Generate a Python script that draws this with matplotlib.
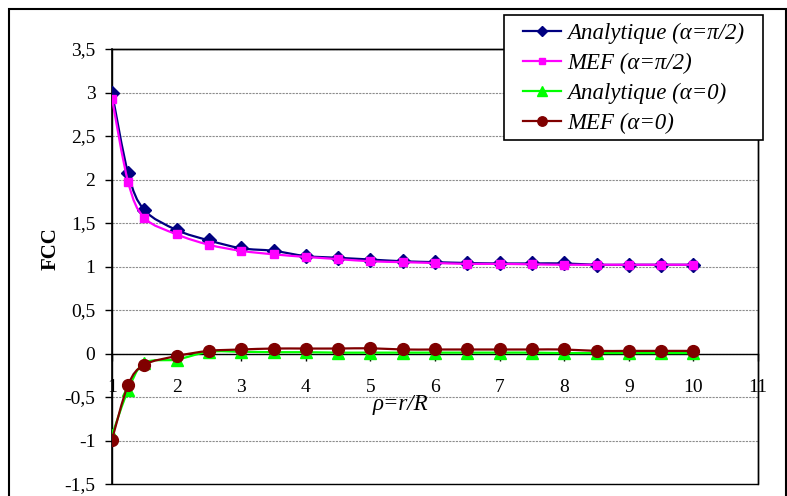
import matplotlib
matplotlib.use("Agg")
import matplotlib.pyplot as plt
from matplotlib.path import Path
from matplotlib.patches import PathPatch, Rectangle
from matplotlib.lines import Line2D

# ---------------------------------------------------------------------------
# Data
# ---------------------------------------------------------------------------
rho = [1, 1.25, 1.5, 2, 2.5, 3, 3.5, 4, 4.5, 5, 5.5, 6, 6.5, 7, 7.5, 8, 8.5,
       9, 9.5, 10]

ana_pi2 = [3.00, 2.07, 1.65, 1.42, 1.30, 1.21, 1.18, 1.12, 1.10, 1.08, 1.06,
           1.05, 1.04, 1.035, 1.035, 1.035, 1.02, 1.02, 1.02, 1.02]
mef_pi2 = [2.93, 1.97, 1.56, 1.37, 1.25, 1.18, 1.14, 1.11, 1.085, 1.06, 1.05,
           1.04, 1.03, 1.03, 1.025, 1.02, 1.02, 1.02, 1.02, 1.02]
ana_0 = [-0.94, -0.42, -0.11, -0.07, 0.02, 0.02, 0.015, 0.015, 0.01, 0.01,
         0.01, 0.01, 0.01, 0.01, 0.01, 0.005, 0.005, 0.005, 0.005, 0.005]
mef_0 = [-0.99, -0.36, -0.13, -0.03, 0.03, 0.046, 0.057, 0.057, 0.057, 0.06,
         0.046, 0.046, 0.046, 0.046, 0.046, 0.046, 0.03, 0.03, 0.03, 0.03]

series = [
    ("Analytique (α=π/2)", ana_pi2, "#000080", "D", 7.0),
    ("MEF (α=π/2)",        mef_pi2, "#FF00FF", "s", 5.5),
    ("Analytique (α=0)",   ana_0,   "#00FF00", "^", 8.5),
    ("MEF (α=0)",          mef_0,   "#800000", "o", 8.5),
]

x_ticks = list(range(1, 12))
y_ticks = [-1.5, -1, -0.5, 0, 0.5, 1, 1.5, 2, 2.5, 3, 3.5]
y_labels = ["-1,5", "-1", "-0,5", "0", "0,5", "1", "1,5", "2", "2,5", "3",
            "3,5"]

plt.rcParams["font.family"] = ["Liberation Serif", "DejaVu Serif"]


def smooth_path(xs, ys):
    """Excel-like smoothed line: cubic Bezier through every point."""
    pts = list(zip(xs, ys))
    n = len(pts)
    verts = [pts[0]]
    codes = [Path.MOVETO]
    for i in range(n - 1):
        p0 = pts[max(i - 1, 0)]
        p1 = pts[i]
        p2 = pts[i + 1]
        p3 = pts[min(i + 2, n - 1)]
        c1 = (p1[0] + (p2[0] - p0[0]) / 6, p1[1] + (p2[1] - p0[1]) / 6)
        c2 = (p2[0] - (p3[0] - p1[0]) / 6, p2[1] - (p3[1] - p1[1]) / 6)
        verts += [c1, c2, p2]
        codes += [Path.CURVE4] * 3
    return Path(verts, codes)


W, H = 787, 496
fig = plt.figure(figsize=(W / 100, H / 100), dpi=100)
ax = fig.add_axes([112 / W, 1 - 484 / H, 646 / W, 435 / H])

# move the x axis to y = 0 first (this resets the ticks)
ax.spines["bottom"].set_position(("data", 0))

for z, (label, vals, color, marker, ms) in enumerate(series):
    ax.add_patch(PathPatch(smooth_path(rho, vals), fill=False, edgecolor=color,
                           lw=1.6, zorder=3 + 2 * z))
    ax.plot(rho, vals, linestyle="none", marker=marker, ms=ms, color=color,
            mec=color, zorder=4 + 2 * z)

ax.set_xlim(1, 11)
ax.set_ylim(-1.5, 3.5)

ax.set_xticks(x_ticks)
ax.set_xticklabels([str(t) for t in x_ticks])
ax.set_yticks(y_ticks)
ax.set_yticklabels(y_labels)

for s in ax.spines.values():
    s.set_color("black")
    s.set_linewidth(1.0)
ax.spines["left"].set_linewidth(1.2)
ax.tick_params(axis="x", direction="out", length=5, width=1, pad=13,
               labelsize=14)
ax.tick_params(axis="y", direction="out", length=5, width=1, pad=7,
               labelsize=14)

ax.yaxis.grid(True, color="#8c8c8c", linestyle=(0, (2, 1)), lw=0.8)
ax.set_axisbelow(True)

# plot-area frame
ax.add_patch(Rectangle((0, 0), 1, 1, transform=ax.transAxes, fill=False,
                       edgecolor="black", lw=1.0, zorder=2, clip_on=False))

ax.set_ylabel("FCC", fontsize=15, fontweight="bold")
ax.yaxis.set_label_coords(-0.08, 0.54)
ax.text(0.446, 0.182, "ρ=r/R", transform=ax.transAxes, fontsize=16.5,
        style="italic", ha="center", va="center")

# legend box (drawn separately to get Excel's wide side margins)
fig.patches.append(Rectangle((504 / W, 1 - 140 / H), 259 / W, 125 / H,
                             transform=fig.transFigure, facecolor="white",
                             edgecolor="black", lw=1.2, zorder=10))
handles = [Line2D([0], [0], color=c, lw=1.6, marker=m, ms=ms * 0.8, mec=c)
           for (_, _, c, m, ms) in series]
leg = fig.legend(handles, [s[0] for s in series], loc="upper left",
                 bbox_to_anchor=(523 / W, 1 - 23 / H),
                 bbox_transform=fig.transFigure, borderaxespad=0,
                 prop={"size": 16.5, "style": "italic"}, handlelength=1.65,
                 handletextpad=0.3, labelspacing=0.38, borderpad=0,
                 frameon=False)
leg.set_zorder(11)

# outer chart border
fig.patches.append(Rectangle((9 / W, -0.01), 777 / W, 1 - 9 / H + 0.01,
                             transform=fig.transFigure, fill=False,
                             edgecolor="black", lw=1.5))

fig.savefig("out.png", dpi=100)
